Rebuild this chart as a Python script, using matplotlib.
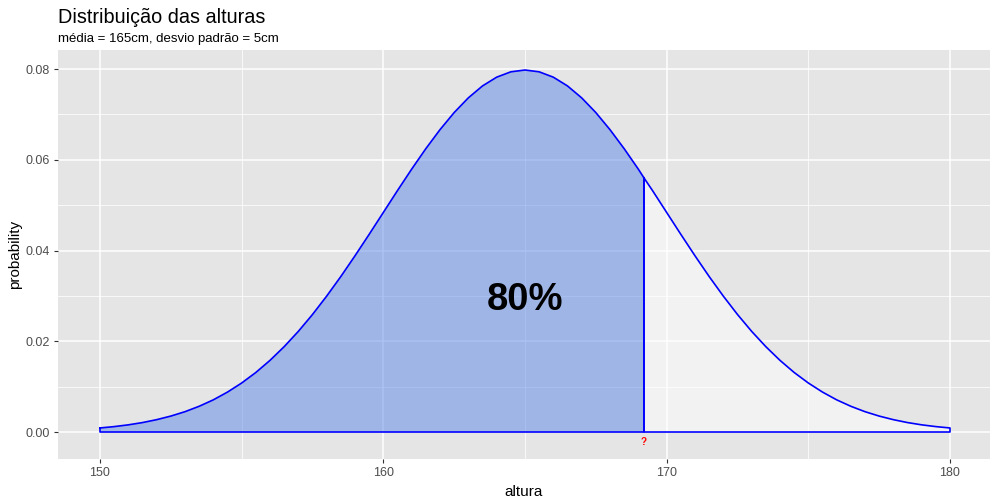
import numpy as np
import matplotlib
matplotlib.use("Agg")
import matplotlib.pyplot as plt

plt.rcParams['font.family'] = ['Liberation Sans', 'DejaVu Sans']

# density of heights (0.5 cm steps)
altura = [150.0, 150.5, 151.0, 151.5, 152.0, 152.5, 153.0, 153.5, 154.0, 154.5,
          155.0, 155.5, 156.0, 156.5, 157.0, 157.5, 158.0, 158.5, 159.0, 159.5,
          160.0, 160.5, 161.0, 161.5, 162.0, 162.5, 163.0, 163.5, 164.0, 164.5,
          165.0, 165.5, 166.0, 166.5, 167.0, 167.5, 168.0, 168.5, 169.0, 169.5,
          170.0, 170.5, 171.0, 171.5, 172.0, 172.5, 173.0, 173.5, 174.0, 174.5,
          175.0, 175.5, 176.0, 176.5, 177.0, 177.5, 178.0, 178.5, 179.0, 179.5,
          180.0]
probability = [0.00089, 0.00119, 0.00158, 0.00208, 0.00272, 0.00351, 0.00448, 0.00567,
               0.00709, 0.00880, 0.01080, 0.01312, 0.01579, 0.01881, 0.02218, 0.02590,
               0.02995, 0.03427, 0.03884, 0.04357, 0.04839, 0.05322, 0.05794, 0.06245,
               0.06664, 0.07041, 0.07365, 0.07628, 0.07821, 0.07939, 0.07979, 0.07939,
               0.07821, 0.07628, 0.07365, 0.07041, 0.06664, 0.06245, 0.05794, 0.05322,
               0.04839, 0.04357, 0.03884, 0.03427, 0.02995, 0.02590, 0.02218, 0.01881,
               0.01579, 0.01312, 0.01080, 0.00880, 0.00709, 0.00567, 0.00448, 0.00351,
               0.00272, 0.00208, 0.00158, 0.00119, 0.00089]

corte = 169.2        # 80% quantile
corte_prob = 0.0560
rotulo = "80%"

x = np.array(altura)
y = np.array(probability)

xl = np.concatenate([x[x < corte], [corte]])
yl = np.concatenate([y[x < corte], [corte_prob]])
xr = np.concatenate([[corte], x[x > corte]])
yr = np.concatenate([[corte_prob], y[x > corte]])

fig = plt.figure(figsize=(10, 5), dpi=100)
ax = fig.add_axes([0.058, 0.082, 0.932, 0.818])
ax.set_facecolor("#E5E5E5")
for s in ax.spines.values():
    s.set_visible(False)

ax.set_xlim(148.518, 181.412)
ax.set_ylim(-0.00595, 0.0842)
ax.set_xticks([150, 160, 170, 180])
ax.set_xticks([155, 165, 175], minor=True)
ax.set_yticks([0.0, 0.02, 0.04, 0.06, 0.08])
ax.set_yticks([0.01, 0.03, 0.05, 0.07], minor=True)
ax.set_yticklabels(["0.00", "0.02", "0.04", "0.06", "0.08"])
ax.grid(which="major", color="white", lw=1.1)
ax.grid(which="minor", color="white", lw=0.55)
ax.set_axisbelow(True)
ax.tick_params(which="major", length=3, width=0.8, color="#333333",
               labelsize=9, labelcolor="#4D4D4D", pad=3)
ax.tick_params(which="minor", length=0)

# polygons
ax.fill(np.concatenate([xl, [corte, xl[0]]]), np.concatenate([yl, [0, 0]]),
        facecolor="#5A86E8", alpha=0.5, edgecolor="none", zorder=2)
ax.fill(np.concatenate([xr, [xr[-1], corte]]), np.concatenate([yr, [0, 0]]),
        facecolor="white", alpha=0.5, edgecolor="none", zorder=2)
ax.plot(np.concatenate([xl, [corte, xl[0], xl[0]]]),
        np.concatenate([yl, [0, 0, yl[0]]]), color="blue", lw=1.2, zorder=3)
ax.plot(np.concatenate([xr, [xr[-1], corte, corte]]),
        np.concatenate([yr, [0, 0, yr[0]]]), color="blue", lw=1.2, zorder=3)

ax.text(165, 0.029, rotulo, fontsize=27.5, fontweight="bold", ha="center", va="center")
ax.text(corte, -0.0022, "?", color="red", fontsize=7, fontweight="bold",
        ha="center", va="center")

ax.set_xlabel("altura", fontsize=11, labelpad=4)
ax.set_ylabel("probability", fontsize=11, labelpad=2)
fig.text(0.058, 0.965, "Distribuição das alturas", fontsize=14.3, va="center")
fig.text(0.058, 0.922, "média = 165cm, desvio padrão = 5cm", fontsize=9.5, va="center")

fig.savefig("out.png", dpi=100)
